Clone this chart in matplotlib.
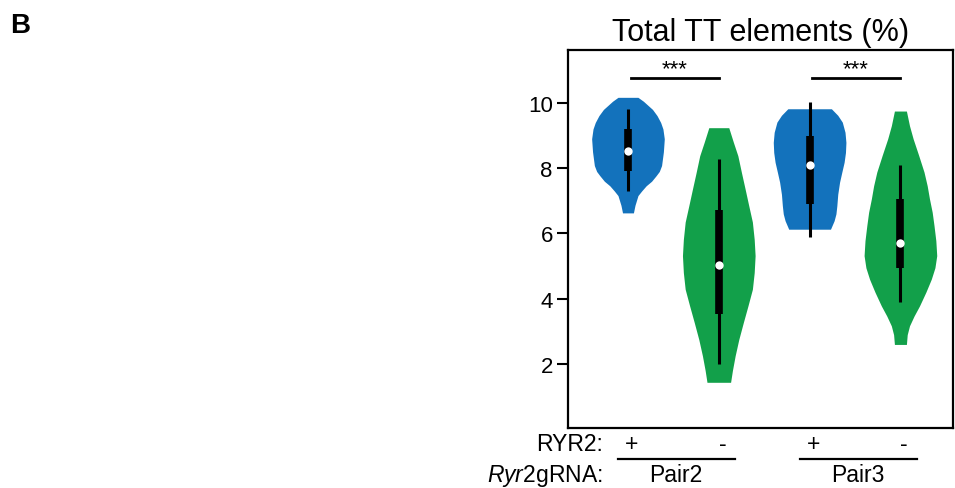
import numpy as np
import matplotlib.pyplot as plt

plt.rcParams['font.family'] = ['Liberation Sans', 'DejaVu Sans']
plt.rcParams['mathtext.fontset'] = 'custom'
plt.rcParams['mathtext.rm'] = 'Liberation Sans'
plt.rcParams['mathtext.it'] = 'Liberation Sans:italic'

# violin outlines: (value, half width)
v1_y = [10.17, 10.05, 9.8, 9.61, 9.4, 9.2, 8.9, 8.5, 8.08, 7.9, 7.77, 7.6, 7.46, 7.3, 7.16, 6.86, 6.63]
v1_w = [0.11, 0.17, 0.27, 0.32, 0.36, 0.385, 0.40, 0.39, 0.37, 0.345, 0.31, 0.26, 0.20, 0.15, 0.11, 0.077, 0.06]
v2_y = [9.24, 8.8, 8.38, 7.86, 7.36, 6.85, 6.35, 5.82, 5.32, 4.8, 4.29, 3.77, 3.27, 2.75, 2.25, 1.8, 1.44]
v2_w = [0.11, 0.16, 0.21, 0.25, 0.29, 0.33, 0.37, 0.39, 0.40, 0.39, 0.37, 0.32, 0.27, 0.22, 0.18, 0.15, 0.13]
v3_y = [9.82, 9.62, 9.41, 9.1, 8.79, 8.48, 8.18, 7.88, 7.57, 7.2, 6.85, 6.6, 6.39, 6.13]
v3_w = [0.24, 0.31, 0.36, 0.39, 0.40, 0.395, 0.38, 0.355, 0.33, 0.31, 0.30, 0.29, 0.27, 0.23]
v4_y = [9.75, 9.3, 8.9, 8.4, 7.88, 7.46, 7.06, 6.65, 6.24, 5.78, 5.32, 4.95, 4.6, 4.2, 3.78, 3.47, 3.17, 2.9, 2.6]
v4_w = [0.066, 0.10, 0.14, 0.20, 0.26, 0.295, 0.32, 0.35, 0.37, 0.39, 0.40, 0.38, 0.34, 0.28, 0.21, 0.15, 0.10, 0.075, 0.066]

# box stats: whisker low/high, q1, q3, median
whisk_lo = [7.31, 2.0, 5.88, 3.9]
whisk_hi = [9.8, 8.28, 10.02, 8.1]
q1 = [7.9, 3.53, 6.9, 4.94]
q3 = [9.2, 6.73, 9.0, 7.06]
medians = [8.52, 5.04, 8.1, 5.7]

ryr2 = ['+', '-', '+', '-']
pairs = ['Pair2', 'Pair3']

blue = '#1372bc'
green = '#12a04a'
colors = [blue, green, blue, green]

fig = plt.figure(figsize=(9.55, 4.89), dpi=100)
ax = fig.add_axes([0.5948, 0.1227, 0.4032, 0.773])

profiles = [(v1_y, v1_w), (v2_y, v2_w), (v3_y, v3_w), (v4_y, v4_w)]
for i, (ys, ws) in enumerate(profiles):
    pos = i + 1
    ys = np.array(ys)
    ws = np.array(ws)
    ax.fill_betweenx(ys, pos - ws, pos + ws, color=colors[i], lw=0)
    ax.plot([pos, pos], [whisk_lo[i], whisk_hi[i]], color='black', lw=2.2,
            solid_capstyle='butt')
    ax.plot([pos, pos], [q1[i], q3[i]], color='black', lw=5.5,
            solid_capstyle='butt')
    ax.plot(pos, medians[i], 'o', color='white', ms=6, mec='none')

# significance bars
for a, b in [(1, 2), (3, 4)]:
    ax.plot([a + 0.03, b], [10.77, 10.77], color='black', lw=2)
    ax.text((a + b) / 2 + 0.01, 10.74, '***', ha='center', va='bottom', fontsize=16)

ax.set_xlim(0.34, 4.58)
ax.set_ylim(0.04, 11.62)
ax.set_xticks([])
ax.set_yticks([2, 4, 6, 8, 10])
ax.tick_params(axis='y', labelsize=16, length=8, width=1.5, pad=3)
for s in ax.spines.values():
    s.set_linewidth(1.6)
ax.set_title('Total TT elements (%)', fontsize=22, pad=7)

# group labels under the axis
tr = ax.get_xaxis_transform()
for i, lab in enumerate(ryr2):
    ax.text(i + 1 + 0.04, -0.042, lab, transform=tr, ha='center', va='center',
            fontsize=16.5, clip_on=False)
for j, p in enumerate(pairs):
    a = 2 * j + 1
    ax.plot([a - 0.11, a + 1.18], [-0.082, -0.082], transform=tr, color='black',
            lw=1.6, clip_on=False)
    ax.text(a + 0.53, -0.122, p, transform=tr, ha='center', va='center',
            fontsize=16.5, clip_on=False)

fig.text(603 / 955, 1 - 445 / 489, 'RYR2:', ha='right', va='center', fontsize=16.5)
fig.text(603 / 955, 1 - 476 / 489, r'$\it{Ryr}$2gRNA:', ha='right', va='center',
         fontsize=16.5)
fig.text(10 / 955, 1 - 26 / 489, 'B', ha='left', va='center', fontsize=20,
         fontweight='bold')

fig.savefig('out.png', dpi=100)
